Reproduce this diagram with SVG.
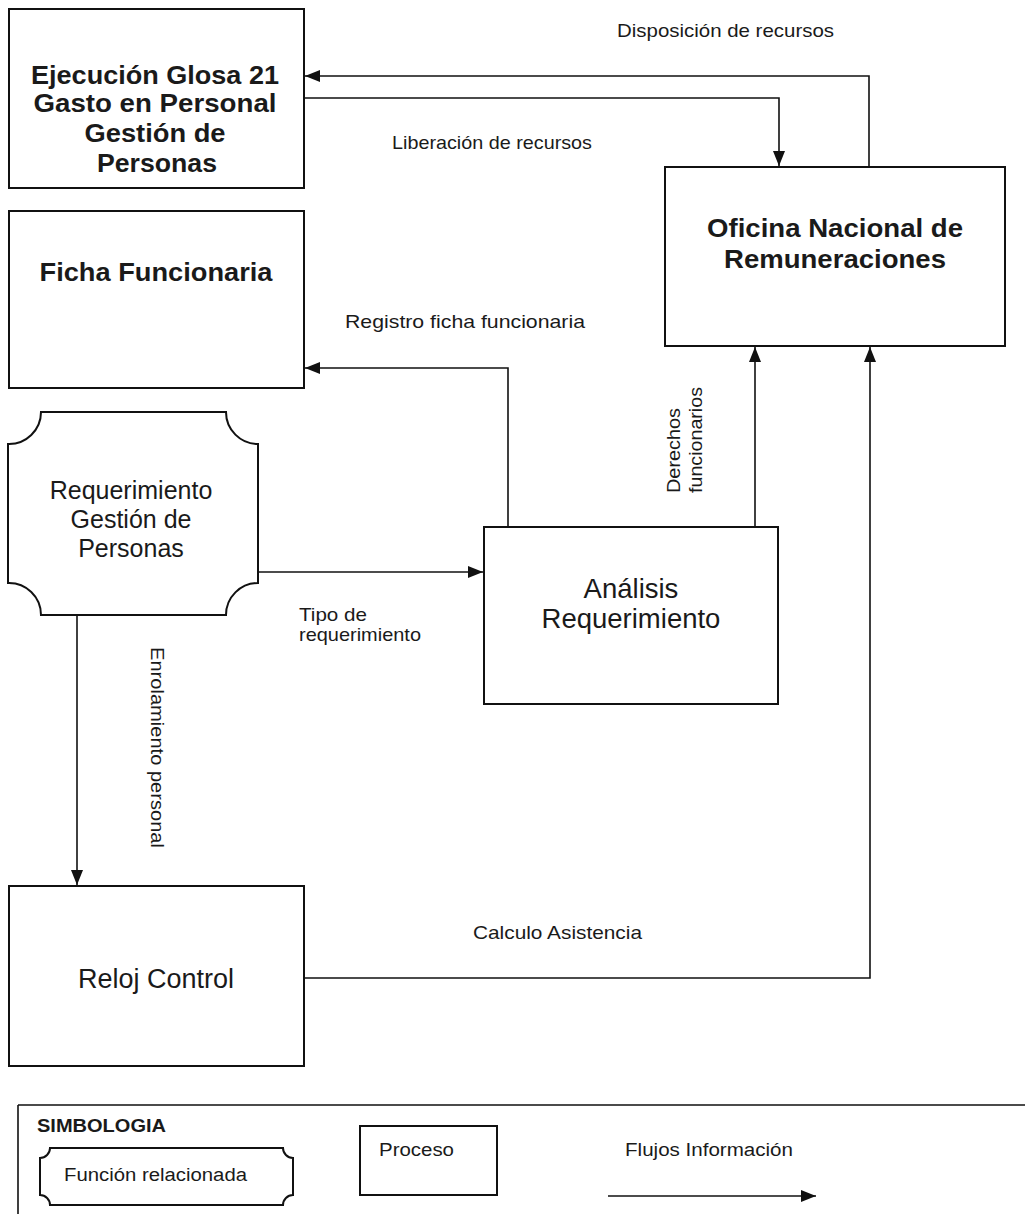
<svg xmlns="http://www.w3.org/2000/svg" width="1025" height="1214" viewBox="0 0 1025 1214">
  <style>
    .box { fill: #fff; stroke: #111; stroke-width: 2; }
    .flow { fill: none; stroke: #111; stroke-width: 1.6; }
    .t { font-family: "Liberation Sans", Arial, sans-serif; fill: #1a1a1a; }
    .title { font-size: 25px; font-weight: bold; text-anchor: middle; }
    .name { text-anchor: middle; }
    .lbl { font-size: 19px; }
    .leg { font-size: 18px; }
  </style>
  <defs>
    <marker id="arr" markerUnits="userSpaceOnUse" markerWidth="15" markerHeight="12" refX="15" refY="6" orient="auto">
      <path d="M0,0 L15,6 L0,12 Z" fill="#111"/>
    </marker>
  </defs>

  <rect x="0" y="0" width="1025" height="1214" fill="#fff"/>

  <!-- connectors -->
  <g id="connectors">
    <path class="flow" d="M869 167 V76 H305" marker-end="url(#arr)"/>
    <path class="flow" d="M304 98 H779 V166" marker-end="url(#arr)"/>
    <path class="flow" d="M508 527 V368 H305" marker-end="url(#arr)"/>
    <path class="flow" d="M258 572 H483" marker-end="url(#arr)"/>
    <path class="flow" d="M755 527 V347" marker-end="url(#arr)"/>
    <path class="flow" d="M77 615 V885" marker-end="url(#arr)"/>
    <path class="flow" d="M304 978 H870 V347" marker-end="url(#arr)"/>

    <text class="t lbl" x="617" y="37" textLength="217" lengthAdjust="spacingAndGlyphs">Disposición de recursos</text>
    <text class="t lbl" x="392" y="149" textLength="200" lengthAdjust="spacingAndGlyphs">Liberación de recursos</text>
    <text class="t lbl" x="345" y="328" textLength="240" lengthAdjust="spacingAndGlyphs">Registro ficha funcionaria</text>
    <text class="t lbl" x="299" y="621" textLength="68" lengthAdjust="spacingAndGlyphs">Tipo de</text>
    <text class="t lbl" x="299" y="641" textLength="122" lengthAdjust="spacingAndGlyphs">requerimiento</text>
    <text class="t lbl" transform="translate(680 493) rotate(-90)" x="0" y="0" textLength="85" lengthAdjust="spacingAndGlyphs">Derechos</text>
    <text class="t lbl" transform="translate(702 493) rotate(-90)" x="0" y="0" textLength="106" lengthAdjust="spacingAndGlyphs">funcionarios</text>
    <text class="t lbl" transform="translate(151 647) rotate(90)" x="0" y="0" textLength="201" lengthAdjust="spacingAndGlyphs">Enrolamiento personal</text>
    <text class="t lbl" x="473" y="939" textLength="169" lengthAdjust="spacingAndGlyphs">Calculo Asistencia</text>
  </g>

  <!-- Ejecución Glosa 21 -->
  <g id="ejecucion">
    <rect class="box" x="9" y="9" width="295" height="179"/>
    <text class="t title" x="155" y="84" textLength="248" lengthAdjust="spacingAndGlyphs">Ejecución Glosa 21</text>
    <text class="t title" x="155" y="112" textLength="243" lengthAdjust="spacingAndGlyphs">Gasto en Personal</text>
    <text class="t title" x="155" y="142" textLength="141" lengthAdjust="spacingAndGlyphs">Gestión de</text>
    <text class="t title" x="157" y="172" textLength="120" lengthAdjust="spacingAndGlyphs">Personas</text>
  </g>

  <!-- Oficina Nacional de Remuneraciones -->
  <g id="oficina">
    <rect class="box" x="665" y="167" width="340" height="179"/>
    <text class="t title" x="835" y="237" textLength="256" lengthAdjust="spacingAndGlyphs">Oficina Nacional de</text>
    <text class="t title" x="835" y="268" textLength="222" lengthAdjust="spacingAndGlyphs">Remuneraciones</text>
  </g>

  <!-- Ficha Funcionaria -->
  <g id="ficha">
    <rect class="box" x="9" y="211" width="295" height="177"/>
    <text class="t title" x="156" y="281" textLength="233" lengthAdjust="spacingAndGlyphs">Ficha Funcionaria</text>
  </g>

  <!-- Requerimiento Gestión de Personas (related function) -->
  <g id="requerimiento">
    <path class="box" d="M41 412 H226 A32 32 0 0 0 258 444 V583 A32 32 0 0 0 226 615 H41 A32 32 0 0 0 8 583 V444 A32 32 0 0 0 41 412 Z"/>
    <text class="t name" x="131" y="499" font-size="25">Requerimiento</text>
    <text class="t name" x="131" y="528" font-size="25">Gestión de</text>
    <text class="t name" x="131" y="557" font-size="25">Personas</text>
  </g>

  <!-- Análisis Requerimiento -->
  <g id="analisis">
    <rect class="box" x="484" y="527" width="294" height="177"/>
    <text class="t name" x="631" y="598" font-size="27.5">Análisis</text>
    <text class="t name" x="631" y="628" font-size="27.5">Requerimiento</text>
  </g>

  <!-- Reloj Control -->
  <g id="reloj">
    <rect class="box" x="9" y="886" width="295" height="180"/>
    <text class="t name" x="156" y="988" font-size="27">Reloj Control</text>
  </g>

  <!-- legend -->
  <g id="simbologia">
    <path class="flow" d="M18 1105 H1025 M18 1105 V1214" stroke-width="2"/>
    <text class="t leg" x="37" y="1132" font-weight="bold" textLength="129" lengthAdjust="spacingAndGlyphs">SIMBOLOGIA</text>
    <path class="box" d="M50 1148 H283 A10 10 0 0 0 293 1158 V1195 A10 10 0 0 0 283 1205 H50 A10 10 0 0 0 40 1195 V1158 A10 10 0 0 0 50 1148 Z"/>
    <text class="t leg" x="64" y="1181" textLength="183" lengthAdjust="spacingAndGlyphs">Función relacionada</text>
    <rect class="box" x="360" y="1126" width="137" height="69"/>
    <text class="t leg" x="379" y="1156" textLength="75" lengthAdjust="spacingAndGlyphs">Proceso</text>
    <text class="t leg" x="625" y="1156" textLength="168" lengthAdjust="spacingAndGlyphs">Flujos Información</text>
    <path class="flow" d="M608 1196 H816" stroke-width="2" marker-end="url(#arr)"/>
  </g>
</svg>
